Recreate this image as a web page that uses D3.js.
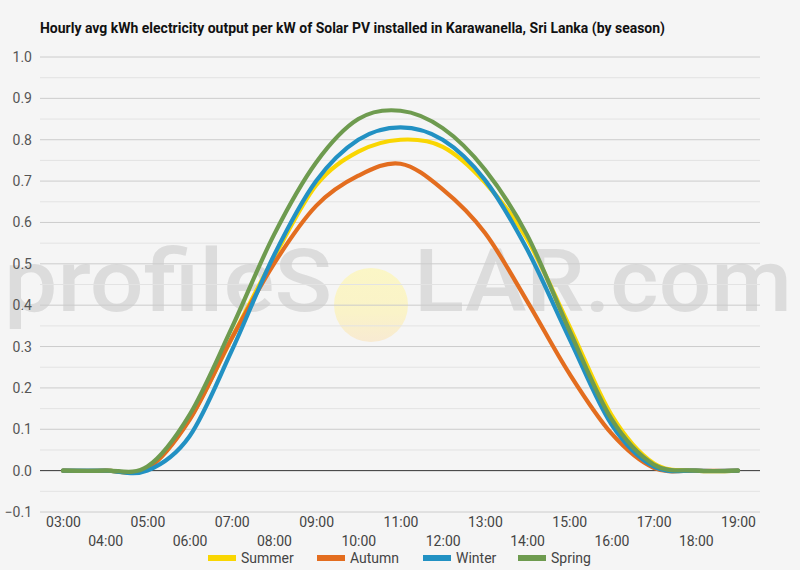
<!DOCTYPE html>
<html><head><meta charset="utf-8">
<script src="https://cdn.jsdelivr.net/npm/d3@7/dist/d3.min.js"></script>
<style>
html,body{margin:0;padding:0;background:#f5f5f5;}
svg{display:block;font-family:Roboto,"Noto Sans",sans-serif;}
</style></head>
<body><svg id="c" width="800" height="570"></svg>
<script>
const hours = [3,4,5,6,7,8,9,10,11,12,13,14,15,16,17,18,19];
const hourLabels = hours.map(h => (h < 10 ? "0" : "") + h + ":00");
const seriesNames = ["Summer","Autumn","Winter","Spring"];
const seriesColors = ["#f9d602","#e36d1f","#2291c3","#6e9b4f"];
const summer = [0, 0, 0.005, 0.125, 0.32, 0.515, 0.69, 0.771, 0.80, 0.783, 0.697, 0.56, 0.35, 0.135, 0.018, 0, 0];
const autumn = [0, 0, 0.005, 0.123, 0.32, 0.50, 0.64, 0.713, 0.742, 0.68, 0.575, 0.41, 0.235, 0.09, 0.007, 0, 0];
const winter = [0, 0, 0, 0.083, 0.29, 0.52, 0.70, 0.80, 0.83, 0.80, 0.703, 0.535, 0.32, 0.112, 0.01, 0, 0];
const spring = [0, 0, 0.01, 0.135, 0.345, 0.57, 0.745, 0.85, 0.87, 0.828, 0.728, 0.57, 0.34, 0.125, 0.015, 0, 0];
const yTicks = [-0.1,0,0.1,0.2,0.3,0.4,0.5,0.6,0.7,0.8,0.9,1.0];
const yMinor = [-0.05,0.05,0.15,0.25,0.35,0.45,0.55,0.65,0.75,0.85,0.95];
const title = "Hourly avg kWh electricity output per kW of Solar PV installed in Karawanella, Sri Lanka (by season)";

const svg = d3.select("#c");
const W = 800, H = 570;
svg.append("rect").attr("width",W).attr("height",H).attr("fill","#f5f5f5");

const gridL = 40, gridR = 760;
const x = d3.scaleLinear().domain([3,19]).range([63,738]);
const y = d3.scaleLinear().domain([-0.1,1.0]).range([512,57]);

// watermark
const defs = svg.append("defs");
const rg = defs.append("linearGradient").attr("id","sun").attr("x1",0).attr("y1",0).attr("x2",0).attr("y2",1);
rg.append("stop").attr("offset","0%").attr("stop-color","#fbf6c6");
rg.append("stop").attr("offset","60%").attr("stop-color","#faf3c8");
rg.append("stop").attr("offset","100%").attr("stop-color","#f8ead2");
const wm = svg.append("g");
wm.append("circle").attr("cx",371).attr("cy",305).attr("r",37).attr("fill","url(#sun)");
wm.append("text").attr("x",4).attr("y",311).attr("font-size",88).attr("font-weight",500)
  .attr("fill","#dcdcdc").attr("textLength",328).attr("lengthAdjust","spacingAndGlyphs").text("profileS");
wm.append("text").attr("x",414).attr("y",311).attr("font-size",88).attr("font-weight",500)
  .attr("fill","#dcdcdc").attr("textLength",378).attr("lengthAdjust","spacingAndGlyphs").text("LAR.com");

// grid
svg.append("g").selectAll("line").data(yMinor).join("line")
  .attr("x1",gridL).attr("x2",gridR).attr("y1",d=>y(d)).attr("y2",d=>y(d))
  .attr("stroke","#e3e3e3").attr("stroke-width",1);
svg.append("g").selectAll("line").data(yTicks).join("line")
  .attr("x1",gridL).attr("x2",gridR).attr("y1",d=>y(d)).attr("y2",d=>y(d))
  .attr("stroke",d=>d===0?"#333":"#cccccc").attr("stroke-width",1);

// y axis labels
const yAxis = d3.axisLeft(y).tickValues(yTicks).tickFormat(d3.format(".1f")).tickSize(0).tickPadding(0);
const ya = svg.append("g").attr("transform","translate(32,0)").call(yAxis);
ya.select(".domain").remove();
ya.selectAll("text").attr("font-size",14).attr("fill","#555").attr("font-family","Roboto");

// x axis labels
const xAxis = d3.axisBottom(x).tickValues(hours).tickFormat((d,i)=>hourLabels[i]).tickSize(0).tickPadding(0);
const xa = svg.append("g").call(xAxis);
xa.select(".domain").remove();
xa.selectAll("text").attr("font-size",14).attr("fill","#444").attr("font-family","Roboto")
  .attr("dy",null).attr("y",(d,i)=> i%2===0 ? 527 : 546);

// lines
const all = [summer, autumn, winter, spring];
const line = d3.line().x((d,i)=>x(hours[i])).y(d=>y(d)).curve(d3.curveCatmullRom.alpha(0));
svg.append("g").selectAll("path").data(all).join("path")
  .attr("d",d=>line(d)).attr("fill","none")
  .attr("stroke",(d,i)=>seriesColors[i]).attr("stroke-width",4.2)
  .attr("stroke-linecap","round").attr("stroke-linejoin","round");

// title
svg.append("text").attr("x",40).attr("y",33).attr("font-size",14).attr("font-weight",700)
  .attr("fill","#111").attr("font-family","Roboto").attr("textLength",625).attr("lengthAdjust","spacingAndGlyphs").text(title);

// legend
const legX = [208,317,423,518];
const lg = svg.append("g");
seriesNames.forEach((n,i)=>{
  lg.append("rect").attr("x",legX[i]).attr("y",555).attr("width",28).attr("height",6).attr("fill",seriesColors[i]);
  lg.append("text").attr("x",legX[i]+33).attr("y",563).attr("font-size",14).attr("fill","#444")
    .attr("font-family","Roboto").text(n);
});
</script></body></html>
